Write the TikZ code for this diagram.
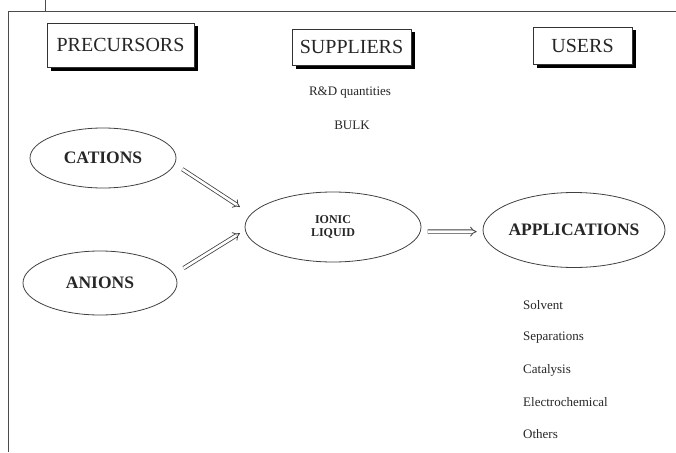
\documentclass[tikz,border=0pt]{standalone}
\usepackage{fontspec}
\setmainfont{Liberation Serif}
\usetikzlibrary{shapes.geometric, shadows, arrows.meta}

\begin{document}
\begin{tikzpicture}[x=1pt, y=-1pt,
  headbox/.style={draw=black!80, fill=white, line width=0.7pt, inner sep=0pt,
    drop shadow={shadow xshift=3.5pt, shadow yshift=-3.5pt, fill=black, opacity=1},
    font=\fontsize{20}{24}\selectfont, text=black!85},
  oval/.style={ellipse, draw=black!75, line width=0.8pt, inner sep=0pt,
    font=\bfseries\fontsize{17.5}{20}\selectfont, text=black!85},
  feed/.style={double, double distance=2.6pt, line width=0.8pt, draw=black!75, -{Implies}},
  note/.style={font=\fontsize{13}{15}\selectfont, inner sep=0pt, text=black!85}]
  \useasboundingbox (0,0) rectangle (676,452);

  % Frame
  \draw[black!70, line width=0.8pt] (45,0) -- (45,11);
  \draw[black!70, line width=0.8pt] (8,452) -- (8,11) -- (676,11);

  % Column heads
  \node[headbox, minimum width=147pt, minimum height=44pt] (prec) at (120.5,45) {PRECURSORS};
  \node[headbox, minimum width=119pt, minimum height=36pt] (supp) at (351.5,47) {SUPPLIERS};
  \node[headbox, minimum width=99pt, minimum height=37pt] (user) at (582.5,45.5) {USERS};

  % Supplier notes
  \node[note] (rd) at (350,93) {R\&D quantities};
  \node[note] (bulk) at (352,125) {BULK};

  % Ovals
  \node[oval, minimum width=146pt, minimum height=60pt] (cat) at (103,158) {CATIONS};
  \node[oval, minimum width=154pt, minimum height=64pt] (an) at (100,283) {ANIONS};
  \node[oval, minimum width=176pt, minimum height=70pt, align=center,
    font=\bfseries\fontsize{12}{13}\selectfont] (ion) at (333,227) {IONIC\\LIQUID};
  \node[oval, minimum width=182pt, minimum height=75pt,
    label={[font=\bfseries\fontsize{17.5}{20}\selectfont, text=black!85]center:APPLICATIONS}] (app) at (574,230) {};

  % Arrows
  \draw[feed, shorten <=9pt, shorten >=13pt] (cat.-5.6) -- (ion.171);
  \draw[feed, shorten <=11pt, shorten >=6pt] (an.7) -- (ion.-178);
  \draw[feed, shorten <=7pt, shorten >=6pt] (ion.-3) -- (app.181);

  % Application list
  \node[note, anchor=west] (solv) at (523,305) {Solvent};
  \node[note, anchor=west] (sep) at (523,338) {Separations};
  \node[note, anchor=west] (cata) at (523,370) {Catalysis};
  \node[note, anchor=west] (elec) at (523,402) {Electrochemical};
  \node[note, anchor=west] (oth) at (523,434) {Others};
\end{tikzpicture}
\end{document}
